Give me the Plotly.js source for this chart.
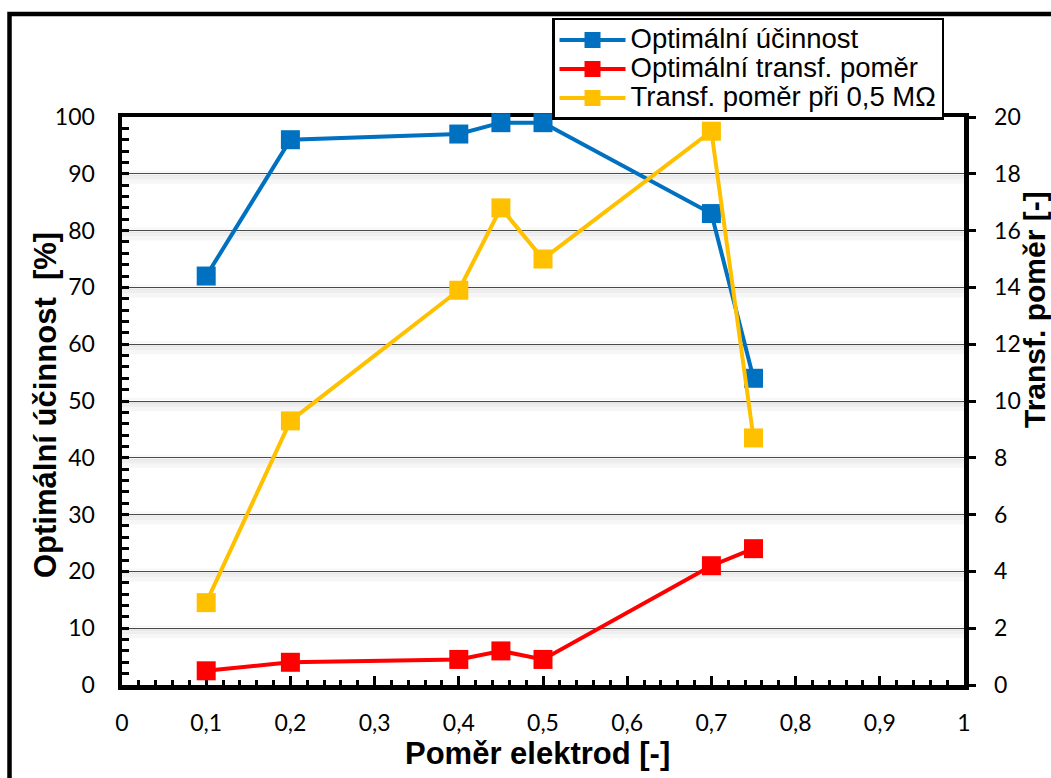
<!DOCTYPE html>
<html>
<head>
<meta charset="utf-8">
<script src="https://cdn.plot.ly/plotly-3.0.1.min.js"></script>
<style>html,body{margin:0;padding:0;background:#fff;}#chart{width:1051px;height:778px;}</style>
</head>
<body>
<div id="chart"></div>
<script>
// ---- data ----
const xValues = [0.1, 0.2, 0.4, 0.45, 0.5, 0.7, 0.75];
const optEfficiency = [72, 96, 97, 99, 99, 83, 54];          // left axis [%]
const optTransfRatio = [0.5, 0.8, 0.9, 1.2, 0.9, 4.2, 4.8];  // right axis [-]
const transfRatio05M = [2.9, 9.3, 13.9, 16.8, 15.0, 19.5, 8.7]; // right axis [-]
const seriesNames = ["Optimální účinnost", "Optimální transf. poměr", "Transf. poměr při 0,5 MΩ"];
const xTitle = "Poměr elektrod [-]";
const yTitle = "Optimální účinnost  [%]";
const y2Title = "Transf. poměr [-]";
const gridValues = [10, 20, 30, 40, 50, 60, 70, 80, 90];

const colors = ["#0070C0", "#FF0000", "#FFC000"];
const tickFont = {family: "Lato, 'Open Sans', sans-serif", size: 23, color: "#000"};
const titleFont = {family: "'Liberation Sans', Arial, sans-serif", size: 31, color: "#000", weight: "bold"};

function mk(y, name, color, axis) {
  return {
    x: xValues, y: y, name: '<span style="font-size:27.5px">' + name + '</span>',
    type: "scatter", mode: "lines+markers",
    yaxis: axis, cliponaxis: false,
    line: {color: color, width: 4},
    marker: {symbol: "square", size: 19, color: color}
  };
}
const traces = [
  mk(optEfficiency, seriesNames[0], colors[0], "y"),
  mk(optTransfRatio, seriesNames[1], colors[1], "y2"),
  mk(transfRatio05M, seriesNames[2], colors[2], "y2")
];

const shapes = [];
gridValues.forEach(v => {
  [[-1, -3, "#e6e6e6"], [-3, -6, "#eeeeee"], [-6, -10, "#f6f6f6"], [1, 3, "#f7f7f7"]].forEach(s => {
    shapes.push({type: "rect", xref: "paper", x0: 0, x1: 1, yref: "y", ysizemode: "pixel", yanchor: v,
      y0: s[0], y1: s[1], fillcolor: s[2], line: {width: 0}, layer: "below"});
  });
});
// outer frame
shapes.push({type: "rect", xref: "paper", yref: "paper", x0: -0.1336, x1: 1.3, y0: -0.4, y1: 1.1813,
  line: {color: "#000", width: 4.5}, fillcolor: "rgba(0,0,0,0)"});

const annotations = [
  {text: xTitle, xref: "paper", yref: "paper", x: (537 - 122) / 842, y: -(753 - 685) / 568,
    xanchor: "center", yanchor: "middle", showarrow: false, font: titleFont},
  {text: yTitle, xref: "paper", yref: "paper", x: (45 - 122) / 842, y: (685 - 405) / 568,
    xanchor: "center", yanchor: "middle", textangle: -90, showarrow: false, font: titleFont},
  {text: y2Title, xref: "paper", yref: "paper", x: (1034 - 122) / 842, y: (685 - 310) / 568,
    xanchor: "center", yanchor: "middle", textangle: -90, showarrow: false,
    font: Object.assign({}, titleFont, {size: 30})}
];

const layout = {
  width: 1051, height: 778,
  margin: {l: 122, r: 87, t: 117, b: 93},
  paper_bgcolor: "#fff", plot_bgcolor: "#fff",
  separators: ", ",
  showlegend: true,
  legend: {x: 0.5107, y: 1.1743, xanchor: "left", yanchor: "top", bgcolor: "#fff",
    bordercolor: "#000", borderwidth: 2.5,
    font: {family: "'Liberation Sans', Arial, sans-serif", size: 20, color: "#000"},
    itemwidth: 66, tracegroupgap: 0},
  xaxis: {range: [0, 1], dtick: 0.1, tick0: 0, showgrid: false, zeroline: false,
    showline: true, linecolor: "#000", linewidth: 4.5, mirror: true, layer: "below traces",
    ticks: "inside", ticklen: 9, tickwidth: 3, tickcolor: "#000",
    minor: {dtick: 0.02, ticks: "inside", ticklen: 5, tickwidth: 3, tickcolor: "#000", showgrid: false},
    tickfont: tickFont, ticklabelstandoff: 14},
  yaxis: {range: [0, 100], dtick: 10, showgrid: true, gridcolor: "#4a4a4a", gridwidth: 1, zeroline: false,
    showline: true, linecolor: "#000", linewidth: 4.5, layer: "below traces",
    ticks: "inside", ticklen: 7, tickwidth: 3, tickcolor: "#000",
    minor: {dtick: 2, ticks: "inside", ticklen: 7, tickwidth: 3, tickcolor: "#000", showgrid: false},
    tickfont: tickFont, ticklabelstandoff: 18},
  yaxis2: {range: [0, 20], dtick: 2, overlaying: "y", side: "right", showgrid: false, zeroline: false,
    showline: true, linecolor: "#000", linewidth: 4.5,
    ticks: "outside", ticklen: 7, tickwidth: 3, tickcolor: "#000",
    tickfont: tickFont, ticklabelstandoff: 14},
  shapes: shapes,
  annotations: annotations
};

Plotly.newPlot("chart", traces, layout, {displayModeBar: false, staticPlot: true});
</script>
</body>
</html>
